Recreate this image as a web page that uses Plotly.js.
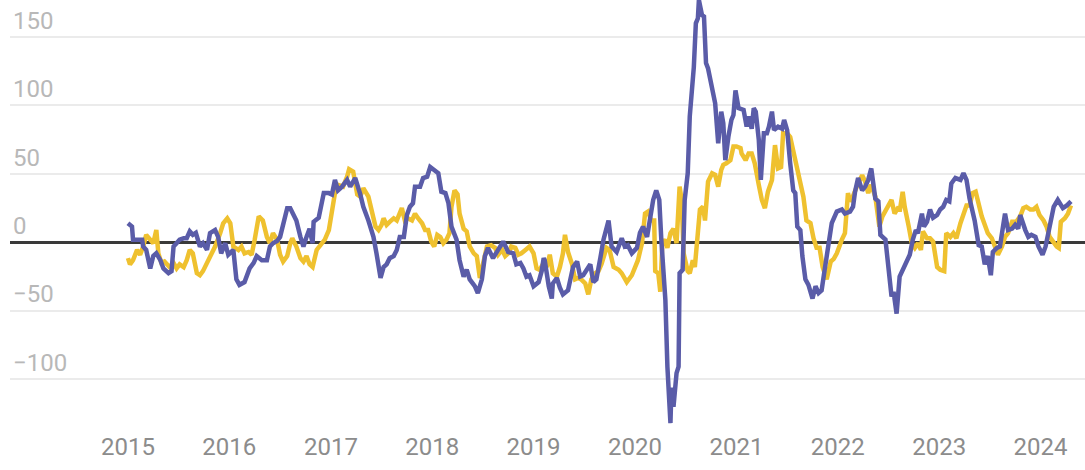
<!DOCTYPE html>
<html>
<head>
<meta charset="utf-8">
<script src="https://cdn.plot.ly/plotly-3.0.1.min.js"></script>
<style>
  html, body { margin: 0; padding: 0; background: #ffffff; }
  #chart { width: 1085px; height: 470px; }
</style>
</head>
<body>
<div id="chart"></div>
<script>
// Time stamps as fractional years
const blueT = [2015.00,2015.04,2015.05,2015.09,2015.14,2015.15,2015.18,2015.22,2015.25,2015.28,2015.32,2015.35,2015.40,2015.43,2015.45,2015.48,2015.51,2015.55,2015.58,2015.61,2015.64,2015.67,2015.71,2015.74,2015.78,2015.81,2015.86,2015.89,2015.92,2015.96,2015.99,
2016.04,2016.07,2016.10,2016.15,2016.20,2016.24,2016.27,2016.32,2016.37,2016.40,2016.43,2016.47,2016.50,2016.53,2016.57,2016.60,2016.63,2016.66,2016.70,2016.73,2016.76,2016.79,2016.82,2016.83,2016.88,2016.93,2016.98,
2017.01,2017.04,2017.07,2017.11,2017.16,2017.19,2017.24,2017.29,2017.32,2017.37,2017.42,2017.45,2017.49,2017.52,2017.55,2017.58,2017.62,2017.65,2017.68,2017.72,2017.75,2017.78,2017.81,2017.83,2017.88,2017.91,2017.95,2017.98,
2018.03,2018.06,2018.09,2018.13,2018.16,2018.19,2018.24,2018.27,2018.31,2018.34,2018.37,2018.42,2018.45,2018.49,2018.52,2018.55,2018.60,2018.65,2018.70,2018.75,2018.80,2018.83,2018.87,2018.90,2018.93,2018.96,
2019.00,2019.05,2019.08,2019.10,2019.11,2019.15,2019.18,2019.19,2019.23,2019.26,2019.29,2019.34,2019.39,2019.43,2019.46,2019.49,2019.52,2019.56,2019.59,2019.62,2019.66,2019.69,2019.74,2019.77,2019.82,2019.87,2019.90,2019.93,2019.97,
2020.02,2020.05,2020.08,2020.12,2020.15,2020.18,2020.21,2020.24,2020.26,2020.30,2020.32,2020.35,2020.36,2020.38,2020.41,2020.43,2020.44,2020.47,2020.49,2020.52,2020.54,2020.58,2020.60,2020.62,2020.63,2020.66,2020.68,2020.70,2020.72,2020.76,2020.79,2020.82,2020.85,2020.87,2020.89,2020.92,2020.95,2020.97,2020.99,
2021.02,2021.07,2021.10,2021.12,2021.15,2021.17,2021.19,2021.22,2021.24,2021.27,2021.30,2021.32,2021.35,2021.37,2021.41,2021.45,2021.47,2021.50,2021.53,2021.56,2021.58,2021.60,2021.63,2021.65,2021.68,2021.71,2021.75,2021.78,2021.81,2021.84,2021.87,2021.91,2021.94,2021.99,
2022.04,2022.07,2022.12,2022.15,2022.17,2022.20,2022.24,2022.27,2022.30,2022.33,2022.37,2022.40,2022.42,2022.47,2022.50,2022.53,2022.55,2022.58,2022.61,2022.65,2022.68,2022.71,2022.74,2022.77,2022.79,2022.83,2022.85,2022.88,2022.91,2022.94,2022.98,
2023.01,2023.04,2023.07,2023.10,2023.12,2023.16,2023.21,2023.24,2023.27,2023.30,2023.35,2023.39,2023.42,2023.45,2023.48,2023.51,2023.53,2023.57,2023.60,2023.63,2023.65,2023.68,2023.72,2023.75,2023.78,2023.80,2023.82,2023.85,2023.88,2023.91,2023.95,2023.98,
2024.02,2024.05,2024.09,2024.13,2024.17,2024.22,2024.26,2024.30];

const blueV = [14,11.5,2,2,2,-3,-5.5,-19,-10,-8,-13,-19,-22.5,-21,-3,-0.6,2,3,3,8,5.5,7,-3,-0.6,-5.5,6.7,9,4,-8,-0.6,-9,
-5.5,-27,-31,-29,-19,-15,-10,-13,-13,-3,-0.6,1,4,14,25,25,21,16,4,-3,4,10,-0.6,15,18,36,36,
35,45.6,38,40.7,45.6,40.7,47,35,26,16,4,-8,-26,-18,-16,-11.5,-10,-5.5,4,4,20,26,28.6,40.7,40.7,47,48,55,
51.7,50.5,37,36,28.6,11.5,2,-13,-25,-20,-27,-32,-37,-27,-10,-4,-11.5,-5.5,0.6,-7,-8,-16,-15,-19,-25,-24,
-32,-29,-21,-11.5,-13,-32,-41,-30,-26,-33,-38,-35,-18,-14,-25,-24,-21,-16,-29,-27,-11,2,16,-3,-7,3,-3,-2,-8,
-4,7,11.5,4,16,31,38,31,2,-42,-90.7,-132,-106,-120,-95.5,-90.7,-22.5,-20,31,50.5,92,128,160,163.6,177,166,165,131,127,112.5,101.6,72.4,95.5,87,60,77,89.4,93,111,
98,96.7,84.5,92,83,98,95.5,75,45.6,79.7,79.7,84.5,95.5,82,84.5,83,89.4,82,57.8,38,36,11.5,9,-10,-27,-31,-41,-32,-37,-35,-20,-3,14,22.5,
24,21,22.5,26,37,47,38,40.7,45.6,54,32,30,5.5,2,-20,-39.5,-36,-52,-25,-18,-13,-9,2,9,6.7,21,11.5,15,24,18,20,
24,26,31,30,43,47,45.6,50.5,45.6,32,16,-2,-3,-16,-10,-24,-7,-4,-3,11.5,21,9,10,12.8,10,20,15,9,4,5.5,4,-3,
-9,-3,11.5,26,31,25,27,30];

const yellowT = [2015.00,2015.02,2015.05,2015.09,2015.12,2015.15,2015.18,2015.22,2015.25,2015.28,2015.30,2015.33,2015.36,2015.41,2015.45,2015.48,2015.51,2015.55,2015.58,2015.61,2015.64,2015.68,2015.71,2015.74,2015.78,2015.81,2015.86,2015.91,2015.94,2015.98,
2016.01,2016.04,2016.09,2016.12,2016.15,2016.19,2016.22,2016.25,2016.29,2016.33,2016.37,2016.40,2016.43,2016.47,2016.50,2016.53,2016.57,2016.60,2016.62,2016.66,2016.70,2016.73,2016.76,2016.79,2016.82,2016.86,2016.89,2016.94,2016.98,
2017.01,2017.04,2017.07,2017.12,2017.16,2017.18,2017.22,2017.26,2017.29,2017.32,2017.37,2017.40,2017.44,2017.47,2017.50,2017.52,2017.55,2017.58,2017.62,2017.65,2017.70,2017.73,2017.76,2017.80,2017.83,2017.86,2017.90,2017.93,2017.96,2017.99,
2018.02,2018.05,2018.08,2018.11,2018.14,2018.17,2018.19,2018.22,2018.25,2018.27,2018.31,2018.34,2018.37,2018.41,2018.44,2018.47,2018.50,2018.54,2018.58,2018.62,2018.65,2018.69,2018.72,2018.75,2018.78,2018.82,2018.85,2018.88,2018.92,2018.96,
2019.00,2019.03,2019.06,2019.10,2019.13,2019.16,2019.19,2019.23,2019.26,2019.29,2019.31,2019.34,2019.38,2019.41,2019.44,2019.47,2019.51,2019.54,2019.57,2019.61,2019.64,2019.67,2019.72,2019.75,2019.79,2019.84,2019.87,2019.92,2019.97,
2020.00,2020.03,2020.07,2020.10,2020.13,2020.16,2020.19,2020.20,2020.23,2020.25,2020.27,2020.30,2020.32,2020.35,2020.38,2020.41,2020.44,2020.46,2020.48,2020.52,2020.54,2020.57,2020.59,2020.61,2020.64,2020.67,2020.69,2020.72,2020.76,2020.79,2020.82,2020.85,2020.87,2020.90,2020.94,2020.97,
2021.00,2021.04,2021.05,2021.09,2021.12,2021.15,2021.18,2021.22,2021.25,2021.28,2021.31,2021.35,2021.38,2021.41,2021.44,2021.46,2021.50,2021.53,2021.56,2021.59,2021.63,2021.66,2021.69,2021.73,2021.76,2021.79,2021.82,2021.85,2021.89,2021.93,2021.96,2021.99,
2022.04,2022.07,2022.10,2022.12,2022.14,2022.17,2022.20,2022.24,2022.27,2022.30,2022.33,2022.37,2022.41,2022.44,2022.47,2022.50,2022.53,2022.56,2022.60,2022.61,2022.64,2022.66,2022.70,2022.73,2022.76,2022.79,2022.82,2022.84,2022.88,2022.91,2022.94,2022.98,
2023.01,2023.05,2023.07,2023.11,2023.14,2023.17,2023.21,2023.24,2023.27,2023.30,2023.33,2023.36,2023.39,2023.42,2023.45,2023.48,2023.52,2023.55,2023.58,2023.62,2023.65,2023.68,2023.72,2023.76,2023.80,2023.83,2023.86,2023.90,2023.93,2023.96,2023.99,
2024.03,2024.06,2024.09,2024.13,2024.16,2024.18,2024.20,2024.24,2024.27,2024.30];

const yellowV = [-11.5,-16,-13,-5.5,-9,-3,5.5,2,-0.6,9,-8,-15,-14,-18,-15,-19,-16,-18,-13,-5.5,-8,-22.5,-24,-21,-15,-10,-3,6.7,14,17.6,
14,-3,-5.5,-3,-8,-7,-9,2,19,16,4,-0.6,6.7,2,-9,-14,-10,-0.6,3,-3,-11.5,-14,-10,-16,-18,-5.5,-3,2,9,
21,36,42,40.7,48,53.4,51.7,35,33.4,39.6,33.4,24,11.5,9,12.8,17.6,12.8,15,17.6,16,25,16,17.6,16,21,17.6,14,9,9,0.6,
-3,5.5,4,-0.6,2,6.7,26,38,35,21,10,8,-3,-8,-10,-26,-16,-3,-2,-4,-9,-5.5,-10,-8,-3,-4,-9,-8,-5.5,-3,
-8,-19,-20,-15,-18,-9,-22.5,-25,-18,-8,5.5,-7,-16,-27,-26,-27,-30,-38,-27,-22.5,-21,-16,-4,-5.5,-18,-20,-22.5,-29,-24,
-18,-13,-0.6,21,22.5,16,16,-21,-22.5,-36,-0.6,2,-4,6.7,10,-0.6,40.7,31,-8,-21,-22.5,-13,-18,-3,24,26,16,44.4,50.5,49.3,40.7,53,56.6,57.8,60,70,
70,68.8,65,60,65,65,57.8,42,31,25,37,45.6,71,54,55,79.7,79.7,77,67.5,55,43,33.4,16,14,3,-4,-4,-18,-27,-14,-12,-8,
2,6.7,36,30,32,38,43,49,44.4,36,42,33.4,11.5,19,24,27,31,21,26,22.5,37,26,11.5,-0.6,-4,-0.6,-5.5,8,3,3,0.6,-18,
-20,-21,6.7,4,6.7,3,14,20,27,27,36,37,26,19,12.8,6.7,3,-3,-9,-3,4,6.7,15,15,19,25,26,24,24,26,20,
16,11.5,4,-0.6,-3,-4,15,17.6,21,27];

const yTickVals = [-100, -50, 0, 50, 100, 150];
const yTickText = ['\u2212100', '\u221250', '0', '50', '100', '150'];
const xTickYears = [2015, 2016, 2017, 2018, 2019, 2020, 2021, 2022, 2023, 2024];

function yearToDate(fy) {
  const y = Math.floor(fy);
  const start = Date.UTC(y, 0, 1);
  const end = Date.UTC(y + 1, 0, 1);
  const ms = start + (fy - y) * (end - start);
  return new Date(ms).toISOString().slice(0, 19).replace('T', ' ');
}

const traces = [
  {
    x: yellowT.map(yearToDate), y: yellowV, type: 'scatter', mode: 'lines',
    line: { color: '#efc12f', width: 4.5, shape: 'linear' }, hoverinfo: 'skip', showlegend: false
  },
  {
    x: blueT.map(yearToDate), y: blueV, type: 'scatter', mode: 'lines',
    line: { color: '#5a5ca8', width: 4.5, shape: 'linear' }, hoverinfo: 'skip', showlegend: false
  }
];

const layout = {
  width: 1085, height: 470,
  margin: { l: 10, r: 0, t: 0, b: 40 },
  paper_bgcolor: '#ffffff', plot_bgcolor: '#ffffff',
  showlegend: false,
  font: { family: 'Roboto, sans-serif' },
  xaxis: {
    type: 'date',
    range: [yearToDate(2013.836), yearToDate(2024.438)],
    tickvals: xTickYears.map(y => yearToDate(y)),
    ticktext: xTickYears.map(String),
    showgrid: false, zeroline: false, showline: false,
    ticks: '', tickfont: { family: 'Roboto, sans-serif', size: 24, color: '#8c8c8c' },
    fixedrange: true
  },
  yaxis: {
    range: [-137, 177],
    tickvals: yTickVals, ticktext: yTickText,
    ticklabelposition: 'inside top',
    showgrid: true, gridcolor: '#ebebeb', gridwidth: 2,
    zeroline: true, zerolinecolor: '#3a3a3a', zerolinewidth: 2.5,
    showline: false, ticks: '',
    tickfont: { family: 'Roboto, sans-serif', size: 24, color: '#b8b8b8' },
    fixedrange: true
  }
};

Plotly.newPlot('chart', traces, layout, { displayModeBar: false, staticPlot: true });
</script>
</body>
</html>
